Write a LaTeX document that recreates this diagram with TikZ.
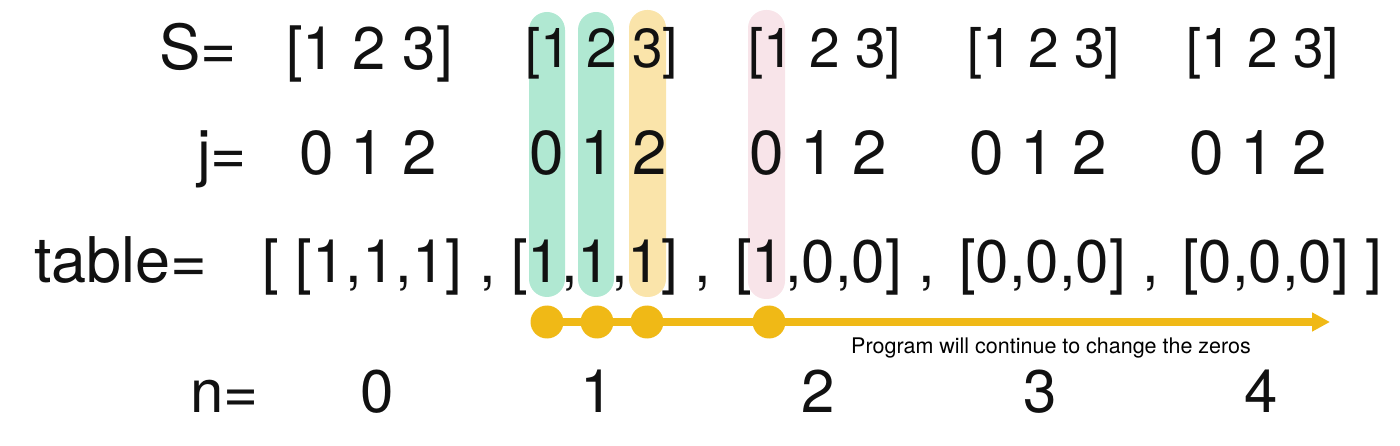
\documentclass[tikz,border=0pt]{standalone}
\usepackage{fontspec}
\setmainfont{TeX Gyre Heros}
\usetikzlibrary{arrows.meta}
\definecolor{mint}{HTML}{B0E8D2}
\definecolor{sand}{HTML}{FAE4AA}
\definecolor{blush}{HTML}{F8E4E9}
\definecolor{gold}{HTML}{F0B916}
\definecolor{ink}{HTML}{111111}
\tikzset{
  big/.style={font=\fontsize{60}{60}\selectfont, inner sep=0pt, anchor=base west, text=ink},
  bigs/.style={big, font=\fontsize{55}{55}\selectfont},
  bigj/.style={big, font=\fontsize{62}{62}\selectfont},
  bigc/.style={big, anchor=base},
  capsule/.style={rounded corners=18pt, draw=none},
  dot/.style={circle, fill=gold, minimum size=33pt, inner sep=0pt},
  track/.style={gold, line width=8pt},
  note/.style={font=\fontsize{21.5}{21.5}\selectfont, inner sep=0pt, anchor=base west},
}
\begin{document}
\begin{tikzpicture}[x=1pt,y=-1pt]
\useasboundingbox (0,0) rectangle (1400,446);
% highlight capsules
\fill[mint, capsule] (529,12) rectangle (565,297);
\fill[mint, capsule] (578,12) rectangle (614,297);
\fill[sand, capsule] (629,10) rectangle (666,297);
\fill[blush, capsule] (748,10) rectangle (785,299);
% S row
\node[big, font=\fontsize{62}{62}\selectfont] (sl) at (159,70) {S=};
\node[big] (s0) at (286,70) {[1 2 3]};
\node[bigs] (s1) at (525,68) {[1 2 3]};
\node[bigs] (s2) at (748,68) {[1 2 3]};
\node[bigs] (s3) at (967,68) {[1 2 3]};
\node[bigs] (s4) at (1186,68) {[1 2 3]};
% j row
\node[bigj] (jl) at (197,175) {j=};
\node[bigj] (j0) at (299,175) {0 1 2};
\node[bigj] (j1) at (529,175) {0 1 2};
\node[bigj] (j2) at (749,175) {0 1 2};
\node[bigj] (j3) at (969,175) {0 1 2};
\node[bigj] (j4) at (1189,175) {0 1 2};
% table row
\node[big, font=\fontsize{63}{63}\selectfont] (tl) at (34,283) {table=};
\node[big] (t0) at (262,283) {[ [1,1,1] ,};
\node[big] (t1) at (511,283) {[1,1,1] ,};
\node[big] (t2) at (735,283) {[1,0,0] ,};
\node[big] (t3) at (959,283) {[0,0,0] ,};
\node[big] (t4) at (1182,283) {[0,0,0] ]};
% n row
\node[big] (nl) at (190,412) {n=};
\node[bigc] (n0) at (377,412) {0};
\node[bigc] (n1) at (597,412) {1};
\node[bigc] (n2) at (818,412) {2};
\node[bigc] (n3) at (1040,412) {3};
\node[bigc] (n4) at (1261,412) {4};
% progress arrow
\node[dot] (d1) at (547,322) {};
\node[dot] (d2) at (597,322) {};
\node[dot] (d3) at (647,322) {};
\node[dot] (d4) at (769,322) {};
\coordinate (tip) at (1330,322);
\draw[track] (d1.center) -- (d4.center);
\draw[track, -{Triangle[length=18pt,width=18pt]}] (d4.center) -- (tip);
\node[note] (msg) at (851,353) {Program will continue to change the zeros};
\end{tikzpicture}
\end{document}
